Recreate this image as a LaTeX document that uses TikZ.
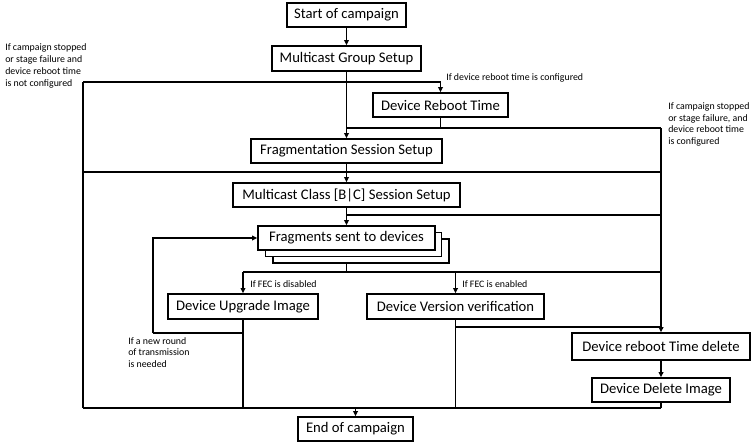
\documentclass[tikz,border=0pt]{standalone}
\usepackage{fontspec}
\setmainfont{Carlito}
\usetikzlibrary{arrows.meta,calc}
\newcommand\bxnode[6]{\node[box,minimum width=(#4-#2)*0.75pt,minimum height=(#5-#3)*0.75pt] (#1) at ({(#2+#4)/2},{(#3+#5)/2}) {#6};}
\begin{document}
\begin{tikzpicture}[x=0.75pt,y=-0.75pt,
  box/.style={draw=black,line width=1pt,fill=white,inner sep=0pt,font=\fontsize{11}{13}\selectfont},
  line/.style={draw=black,line width=1.1pt},
  arr/.style={line,-{Triangle[length=4pt,width=3.6pt]}},
  note/.style={inner sep=0pt,align=left,anchor=west,font=\fontsize{7.4}{8.8}\selectfont}]
\useasboundingbox (0,0) rectangle (756,444);
% boxes
\bxnode{start}{287}{3}{406}{27}{Start of campaign}
\bxnode{mgs}{272}{46}{421}{71}{Multicast Group Setup}
\bxnode{drt}{373}{93}{508}{117}{Device Reboot Time}
\bxnode{fss}{251}{139}{442}{163}{Fragmentation Session Setup}
\bxnode{mcs}{233}{183}{460}{207}{Multicast Class [B|C] Session Setup}
\bxnode{frag3}{273}{239}{449}{263}{}
\bxnode{frag2}{265.5}{232.5}{441.5}{256.5}{}
\bxnode{frag}{258}{226}{435}{250}{Fragments sent to devices}
\bxnode{dui}{168}{294}{318}{319}{Device Upgrade Image}
\bxnode{dvv}{367}{294}{544}{319}{Device Version verification}
\bxnode{drtd}{572}{333}{750}{360}{Device reboot Time delete}
\bxnode{ddi}{592}{378}{730}{402}{Device Delete Image}
\bxnode{end}{298}{417}{413}{441}{End of campaign}
% notes
\node[note] (n1) at (5,66) {If campaign stopped\\or stage failure and\\device reboot time\\is not configured};
\node[note] (n2) at (446,77.5) {If device reboot time is configured};
\node[note] (n3) at (668,124.5) {If campaign stopped\\or stage failure, and\\device reboot time\\is configured};
\node[note] (n4) at (250,284.5) {If FEC is disabled};
\node[note] (n5) at (462,284.5) {If FEC is enabled};
\node[note] (n6) at (128,352.5) {If a new round\\of transmission\\is needed};
% junctions
\coordinate (jTL) at (83,82);
\coordinate (jBL) at (83,408);
\coordinate (jR) at (661,128);
\coordinate (jML) at (83,172);
\coordinate (jMC) at (346.5,215);
\coordinate (jLoop) at (153,333);
\coordinate (jF) at (346.5,272);
\coordinate (jV) at (455.5,327);
% connectors
\draw[arr] (start) -- (mgs);
\draw[arr] (mgs) -- (fss);
\draw[arr] (fss) -- (mcs);
\draw[arr] (mcs) -- (frag);
\draw[line] (jTL) -- (jBL);
\draw[arr] (jTL) -- (jTL -| drt) -- (drt);
\draw[line] (drt) -- (drt |- jR);
\draw[line] (fss |- jR) -- (jR);
\draw[arr] (jR) -- (drtd);
\draw[line] (jML) -- (jML -| jR);
\draw[line] (jMC) -- (jMC -| jR);
\draw[arr] (jLoop) -- (jLoop |- frag) -- (frag);
\draw[line] (jLoop) -- (jLoop -| dui);
\draw[line] (frag.south |- frag3.south) -- (jF);
\draw[line] (dui |- jF) -- (jR |- jF);
\draw[arr] (dui |- jF) -- (dui);
\draw[arr] (dvv |- jF) -- (dvv);
\draw[line] (dui) -- (dui |- jBL);
\draw[line] (dvv) -- (dvv |- jBL);
\draw[line] (jV) -- (jV -| jR);
\draw[arr] (drtd) -- (ddi);
\draw[line] (ddi) -- (ddi |- jBL);
\draw[line] (jBL) -- (jBL -| ddi);
\draw[arr] (jBL -| end) -- (end);
\end{tikzpicture}
\end{document}
